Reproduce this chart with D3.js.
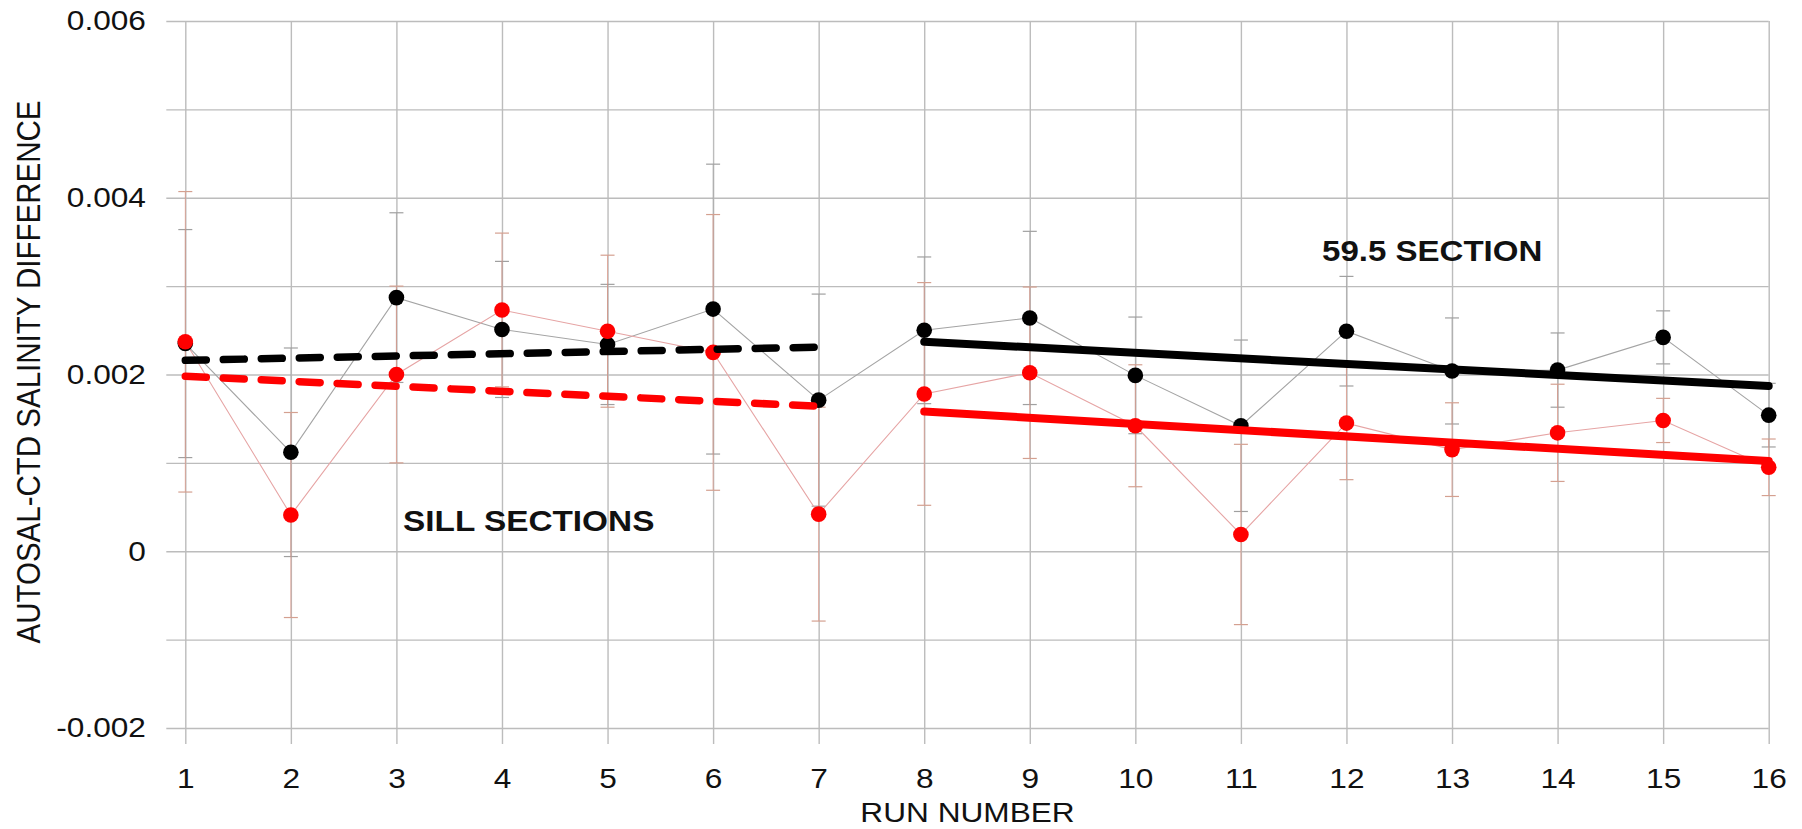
<!DOCTYPE html>
<html>
<head>
<meta charset="utf-8">
<script src="https://cdn.jsdelivr.net/npm/d3@7"></script>
<style>
  body { margin: 0; background: #fff; }
  text { font-family: "Liberation Sans", Arial, sans-serif; fill: #111; }
</style>
</head>
<body>
<svg id="chart"></svg>
<script>
// run numbers on the x axis
const runs = [1, 2, 3, 4, 5, 6, 7, 8, 9, 10, 11, 12, 13, 14, 15, 16];

// black series (values and half-width of error bars)
const blackValues = [0.00235, 0.00112, 0.00287, 0.00251, 0.00234, 0.00274, 0.00171, 0.00250,
                     0.00264, 0.00199, 0.00142, 0.00249, 0.00204, 0.00205, 0.00242, 0.00154];
const blackErrors = [0.00129, 0.00118, 0.00096, 0.00077, 0.00068, 0.00164, 0.00120, 0.00083,
                     0.00098, 0.00066, 0.00097, 0.00062, 0.00060, 0.00042, 0.00030, 0.00036];

// red series
const redValues = [0.00237, 0.00041, 0.00200, 0.00273, 0.00249, 0.00225, 0.00042, 0.00178,
                   0.00202, 0.00142, 0.00019, 0.00145, 0.00115, 0.00134, 0.00148, 0.00095];
const redErrors = [0.00170, 0.00116, 0.00100, 0.00087, 0.00086, 0.00156, 0.00121, 0.00126,
                   0.00097, 0.00069, 0.00102, 0.00064, 0.00053, 0.00055, 0.00025, 0.00032];

// fitted trend lines (end points)
const sillRuns = [1, 7];
const sillBlackTrend = [0.00216, 0.00231];
const sillRedTrend = [0.00198, 0.00164];
const sectionRuns = [8, 16];
const sectionBlackTrend = [0.00237, 0.00187];
const sectionRedTrend = [0.00158, 0.00102];

const yTickLabels = [-0.002, 0, 0.002, 0.004, 0.006];
const yGridValues = [-0.002, -0.001, 0, 0.001, 0.002, 0.003, 0.004, 0.005, 0.006];

const width = 1802, height = 829;
const stretch = 1.13; // text in the original is a bit wider than tall

const svg = d3.select("#chart").attr("width", width).attr("height", height);

const x = d3.scaleLinear().domain([1, 16]).range([185.3, 1768.7]);
const y = d3.scaleLinear().domain([-0.002, 0.006]).range([728, 21]);

const gridLeft = x(0.82), gridRight = x(16);
const gridColor = "#bcbcbc";

// horizontal grid
svg.append("g")
  .attr("transform", `translate(${gridLeft},0)`)
  .call(d3.axisLeft(y).tickValues(yGridValues).tickSize(-(gridRight - gridLeft)).tickFormat(""))
  .call(g => g.select(".domain").remove())
  .call(g => g.selectAll("line").attr("stroke", gridColor).attr("stroke-width", 1.4));

// y tick labels
svg.append("g")
  .attr("transform", `translate(${gridLeft},0)`)
  .call(d3.axisLeft(y).tickValues(yTickLabels).tickSize(0).tickPadding(18)
    .tickFormat(d => d === 0 ? "0" : d.toFixed(3)))
  .call(g => g.select(".domain").remove())
  .call(g => g.selectAll("text")
    .attr("font-size", 28)
    .attr("font-family", "Liberation Sans, Arial, sans-serif")
    .attr("fill", "#111")
    .attr("transform", `scale(${stretch},1)`));

// vertical grid + x tick labels
const axisY = 744;
svg.append("g")
  .attr("transform", `translate(0,${axisY})`)
  .call(d3.axisBottom(x).tickValues(runs).tickSize(-(axisY - y(0.006))).tickPadding(24)
    .tickFormat(d3.format("d")))
  .call(g => g.select(".domain").remove())
  .call(g => g.selectAll("line").attr("stroke", gridColor).attr("stroke-width", 1.4))
  .call(g => g.selectAll("text")
    .attr("font-size", 28)
    .attr("font-family", "Liberation Sans, Arial, sans-serif")
    .attr("fill", "#111")
    .attr("transform", `scale(${stretch},1)`));

// error bars
function errorBars(values, errors, lineColor, capColor) {
  const g = svg.append("g");
  const data = runs.map((r, i) => ({ r, v: values[i], e: errors[i] }));
  g.selectAll("line.bar").data(data).join("line")
    .attr("x1", d => x(d.r)).attr("x2", d => x(d.r))
    .attr("y1", d => y(d.v + d.e)).attr("y2", d => y(d.v - d.e))
    .attr("stroke", lineColor).attr("stroke-width", 1);
  g.selectAll("line.capTop").data(data).join("line")
    .attr("x1", d => x(d.r) - 7).attr("x2", d => x(d.r) + 7)
    .attr("y1", d => y(d.v + d.e)).attr("y2", d => y(d.v + d.e))
    .attr("stroke", capColor).attr("stroke-width", 1.2);
  g.selectAll("line.capBot").data(data).join("line")
    .attr("x1", d => x(d.r) - 7).attr("x2", d => x(d.r) + 7)
    .attr("y1", d => y(d.v - d.e)).attr("y2", d => y(d.v - d.e))
    .attr("stroke", capColor).attr("stroke-width", 1.2);
}
errorBars(blackValues, blackErrors, "rgba(150,150,150,0.5)", "#a0a0a0");
errorBars(redValues, redErrors, "rgba(230,140,120,0.6)", "#d4a090");

// thin connecting lines
const line = d3.line().x(d => x(d[0])).y(d => y(d[1]));
svg.append("path")
  .datum(runs.map((r, i) => [r, blackValues[i]]))
  .attr("d", line).attr("fill", "none").attr("stroke", "#a4a4a4").attr("stroke-width", 1.1);
svg.append("path")
  .datum(runs.map((r, i) => [r, redValues[i]]))
  .attr("d", line).attr("fill", "none").attr("stroke", "#e6a4a4").attr("stroke-width", 1.1);

// points
svg.append("g").selectAll("circle")
  .data(runs.map((r, i) => [r, blackValues[i]]))
  .join("circle")
  .attr("cx", d => x(d[0])).attr("cy", d => y(d[1])).attr("r", 7.8).attr("fill", "#000");
svg.append("g").selectAll("circle")
  .data(runs.map((r, i) => [r, redValues[i]]))
  .join("circle")
  .attr("cx", d => x(d[0])).attr("cy", d => y(d[1])).attr("r", 7.8).attr("fill", "#f00");

// trend lines
function trend(rs, vals, color, dashed) {
  svg.append("path")
    .datum(rs.map((r, i) => [r, vals[i]]))
    .attr("d", line)
    .attr("fill", "none")
    .attr("stroke", color)
    .attr("stroke-width", dashed ? 7.5 : 8)
    .attr("stroke-linecap", "round")
    .attr("stroke-dasharray", dashed ? "21 17" : null);
}
trend(sillRuns, sillBlackTrend, "#000", true);
trend(sillRuns, sillRedTrend, "#f00", true);
trend(sectionRuns, sectionBlackTrend, "#000", false);
trend(sectionRuns, sectionRedTrend, "#f00", false);

// annotations
svg.append("text")
  .attr("transform", `translate(403,530.5) scale(1.15,1)`)
  .attr("font-size", 29).attr("font-weight", "bold")
  .text("SILL SECTIONS");
svg.append("text")
  .attr("transform", `translate(1322,260.5) scale(1.14,1)`)
  .attr("font-size", 29).attr("font-weight", "bold")
  .text("59.5 SECTION");

// axis titles
svg.append("text")
  .attr("transform", `translate(${(gridLeft + gridRight) / 2},822) scale(${stretch},1)`)
  .attr("text-anchor", "middle")
  .attr("font-size", 28)
  .text("RUN NUMBER");
svg.append("text")
  .attr("transform", `translate(40,372) scale(1.1,1) rotate(-90)`)
  .attr("text-anchor", "middle")
  .attr("font-size", 29.5)
  .text("AUTOSAL-CTD SALINITY DIFFERENCE");
</script>
</body>
</html>
